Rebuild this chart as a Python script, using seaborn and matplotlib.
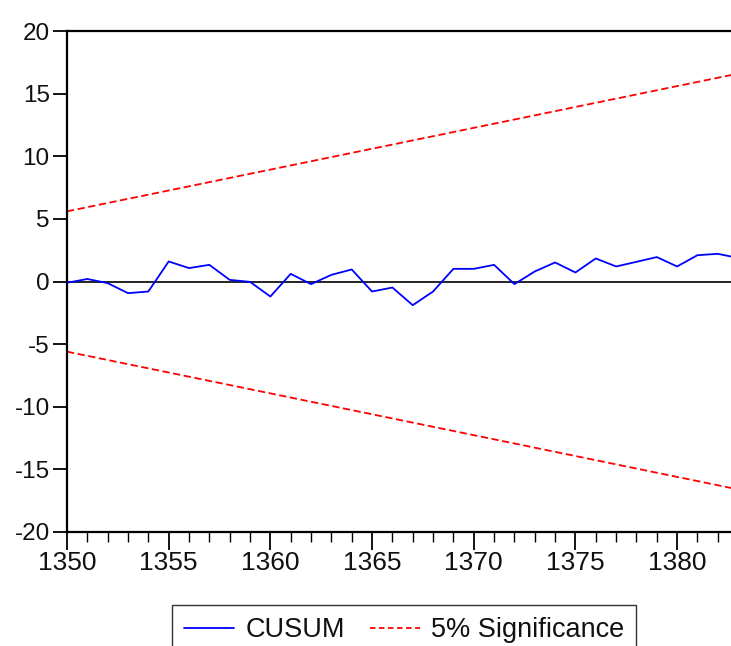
import matplotlib
matplotlib.use("Agg")
import matplotlib.pyplot as plt
import seaborn as sns
import pandas as pd

years = list(range(1350, 1384))
cusum = [-0.1, 0.2, -0.13, -0.93, -0.8, 1.6, 1.07, 1.33, 0.13, -0.03,
         -1.2, 0.61, -0.21, 0.53, 0.96, -0.8, -0.48, -1.89, -0.8, 1.01,
         1.01, 1.33, -0.21, 0.8, 1.52, 0.72, 1.84, 1.2, 1.57, 1.95,
         1.2, 2.1, 2.21, 1.88]
sig_years = [1350, 1383]
sig_upper = [5.6, 16.6]
sig_lower = [-5.6, -16.6]
yticks = [-20, -15, -10, -5, 0, 5, 10, 15, 20]
xticks = [1350, 1355, 1360, 1365, 1370, 1375, 1380]

sns.set_theme(style="white")
plt.rcParams['font.family'] = ['Liberation Sans', 'DejaVu Sans']
plt.rcParams['axes.unicode_minus'] = False

fig = plt.figure(figsize=(7.31, 6.46), dpi=100)
ax = fig.add_axes([67/731, 1-532/646, 1-67/731, (532-31)/646])

df_c = pd.DataFrame({"year": years, "value": cusum})
df_s = pd.DataFrame({"year": sig_years + sig_years,
                     "value": sig_upper + sig_lower,
                     "band": ["up"] * 2 + ["low"] * 2})

ax.axhline(0, color="black", lw=1.2, zorder=1)
sns.lineplot(data=df_c, x="year", y="value", ax=ax, color="#0000ff", lw=1.3,
             label="CUSUM", zorder=3)
first = True
for b in ["up", "low"]:
    sub = df_s[df_s["band"] == b]
    sns.lineplot(data=sub, x="year", y="value", ax=ax, color="#ff0000", lw=1.3,
                 label="5% Significance" if first else None, zorder=2)
    first = False
for ln in ax.lines[2:]:
    ln.set_dashes([4, 2])

ax.set_xlim(1350, 1382.65)
ax.set_ylim(-20, 20)
ax.set_xticks(xticks)
ax.set_xticks(years[:33], minor=True)
ax.set_yticks(yticks)
ax.set_xlabel("")
ax.set_ylabel("")
for side in ["left", "bottom", "top"]:
    ax.spines[side].set_visible(True)
    ax.spines[side].set_color("black")
    ax.spines[side].set_linewidth(1.6)
ax.spines["right"].set_visible(False)
ax.tick_params(axis="y", which="major", direction="out", length=10, width=1.3,
               left=True, labelsize=17.5, colors="black", pad=2.5)
ax.tick_params(axis="x", which="major", direction="out", length=13, width=1.3,
               bottom=True, labelsize=19, colors="black", pad=1)
ax.tick_params(axis="x", which="minor", direction="out", length=7, width=1.0,
               bottom=True, colors="black")
for t in ax.get_yticklabels() + ax.get_xticklabels():
    t.set_color("#111111")

leg = ax.legend(loc="upper left", bbox_to_anchor=(172/731, 1-605/646),
                bbox_transform=fig.transFigure, ncol=2,
                frameon=True, fancybox=False, edgecolor="black", fontsize=19.5,
                handlelength=1.85, columnspacing=0.9, borderpad=0.45,
                handletextpad=0.42, borderaxespad=0)
leg.get_frame().set_linewidth(1.0)
for h in leg.get_lines():
    h.set_linewidth(1.3)
leg.get_lines()[1].set_dashes([3, 2])
for t in leg.get_texts():
    t.set_color("#111111")

fig.savefig("out.png", dpi=100)
